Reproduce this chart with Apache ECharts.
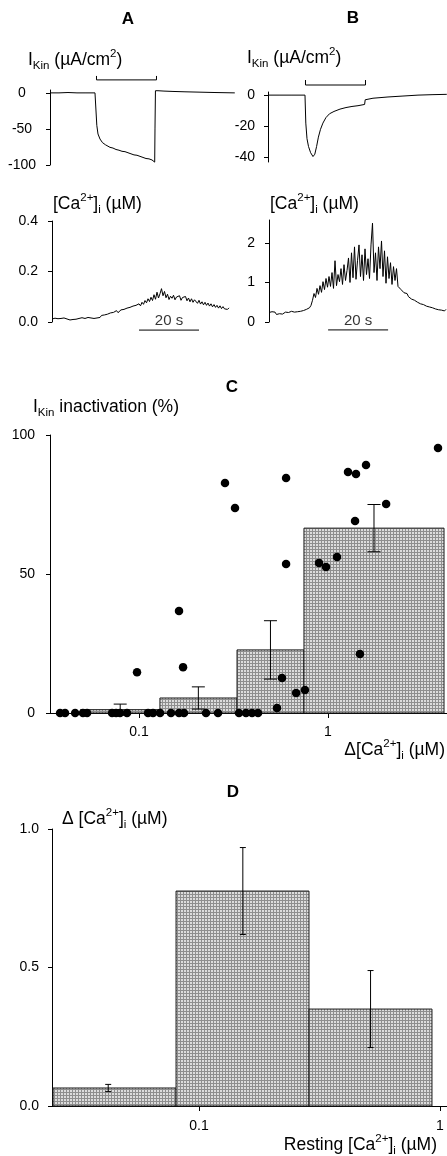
<!DOCTYPE html>
<html><head><meta charset="utf-8">
<script src="https://cdn.jsdelivr.net/npm/echarts@6/dist/echarts.min.js"></script>
<style>html,body{margin:0;padding:0;background:#fff}#c{width:447px;height:1156px}</style>
</head><body><div id="c"></div>
<script>
// ================= DATA =================
// Panel A: I_Kin current trace (time s, µA/cm2)
const aCurT = [0, 3, 6, 9, 12, 15, 15.33, 15.6, 16, 16.67, 17.5, 18.5, 20, 21, 22, 23, 24, 25, 26, 27, 28, 29, 30, 31, 32, 33, 34, 34.9, 35.0, 35.15, 36, 38, 41, 45, 50, 55, 61.6];
const aCurV = [0, 0, 0.5, 0, 0, 0, 0, -45, -57, -64, -69, -72, -75.5, -76.5, -78.5, -79.5, -81, -81.5, -83, -84.5, -86, -86.5, -88, -89.5, -91, -91.5, -93, -96, -50, 3, 3, 2.5, 2, 1.5, 1, 0.5, 0];
const aStim = [15.5, 35.5];
// Panel A: [Ca2+]i trace (µM), sampled every caStep seconds
const caStep = 0.5;
const aCa = [
 0.012,0.008,0.015,0.010,0.013,0.007,0.014,0.011,0.016,0.009,0.012,0.015,0.008,0.013,0.010,0.016,
 0.011,0.009,0.014,0.012,0.017,0.011,0.014,0.010,0.018,0.013,0.016,0.021,0.014,0.019,0.016,0.022,
 0.018,0.026,0.020,0.028,0.024,0.031,0.026,0.036,0.030,0.038,0.033,0.045,0.037,0.042,0.048,0.041,
 0.050,0.046,0.055,0.049,0.058,0.052,0.063,0.057,0.066,0.060,0.072,0.064,0.078,0.070,0.085,0.076,
 0.092,0.081,0.098,0.085,0.108,0.090,0.118,0.095,0.112,0.132,0.104,0.121,0.096,0.110,0.089,0.102,
 0.094,0.106,0.088,0.099,0.092,0.104,0.086,0.097,0.090,0.101,0.084,0.095,0.080,0.092,0.078,0.088,
 0.083,0.074,0.086,0.071,0.080,0.068,0.078,0.066,0.075,0.063,0.072,0.060,0.069,0.058,0.066,0.055,
 0.064,0.053,0.061,0.052,0.059,0.050,0.056];
const aScaleBar = [29, 49];

// Panel B: I_Kin current trace
const bCurT = [0, 4, 8, 12.33, 12.6, 13.0, 13.5, 14.2, 15.0, 15.6, 16.2, 16.8, 17.5, 18.3, 19.3, 20.5, 22, 24, 26, 28, 30, 32.2, 32.4, 33, 35, 40, 45, 50, 55, 59.6];
const bCurV = [0, 0, 0, 0, -18, -28, -33, -37, -39.5, -38, -33, -27, -22, -18, -14.5, -12, -10.5, -9, -8, -7.3, -6.8, -6, -3, -2.5, -2, -1.2, -0.6, 0, 0.3, 0.5];
const bStim = [12.5, 32.5];
// Panel B: [Ca2+]i trace (µM)
const bCa = [
 0.24,0.20,0.26,0.22,0.25,0.19,0.23,0.21,0.26,0.20,0.22,0.25,0.21,0.24,0.22,0.27,
 0.23,0.25,0.22,0.26,0.24,0.27,0.25,0.29,0.28,0.32,0.30,0.36,0.42,0.55,0.72,0.62,
 0.85,0.70,0.92,0.75,1.02,0.82,1.10,0.88,1.15,0.90,1.25,0.85,1.55,0.92,1.20,1.02,
 1.35,0.95,1.45,1.05,1.30,1.62,1.00,1.75,1.12,1.90,1.08,1.55,1.95,1.15,1.70,1.05,
 1.85,1.20,1.60,1.10,1.95,2.50,1.25,1.75,1.05,1.90,1.35,2.05,1.15,1.80,0.98,1.65,
 1.10,1.50,0.95,1.40,1.05,1.35,0.90,0.95,0.82,0.78,0.74,0.70,0.72,0.64,0.66,0.58,
 0.62,0.55,0.57,0.50,0.53,0.46,0.50,0.44,0.47,0.40,0.44,0.38,0.41,0.36,0.39,0.33,
 0.37,0.31,0.35,0.30,0.33,0.28,0.32];
const bScaleBar = [19.7, 39.7];

// Panel C: individual cells, Δ[Ca2+]i (µM) vs I_Kin inactivation (%)
const cDeltaCa = [0.0382,0.0406,0.0459,0.0505,0.0531,0.0720,0.0756,0.0793,0.0864,0.1116,0.1186,0.1292,0.1476,0.1628,0.1730,0.2262,0.2618,0.3381,0.3681,0.3963,0.4265,
  0.537,0.0976,0.1628,0.171,0.285,0.322,0.600,0.600,0.571,0.678,0.755,0.896,0.976,1.116,1.276,1.406,1.589,1.39,2.03,1.476,3.82];
const cInact = [0,0,0,0,0,0,0,0,0,0,0,0,0,0,0,0,0,0,0,0,0,
  1.8,14.7,36.7,16.5,82.7,73.7,84.5,53.6,12.6,7.2,8.3,54.0,52.5,56.1,86.7,86.0,89.2,69.1,75.2,21.2,95.3];
// Panel C: binned means
const cBinLo = [0.049, 0.129, 0.33, 0.746];
const cBinHi = [0.129, 0.33, 0.746, 4.11];
const cBinMean = [1.2, 5.4, 22.7, 66.5];
const cBinErr = [2.0, 4.0, 10.5, 8.5];
const cBinErrX = [0.0795, 0.206, 0.496, 1.751];

// Panel D: Δ[Ca2+]i vs resting [Ca2+]i bins
const dBinLo = [0.0248, 0.0803, 0.286];
const dBinHi = [0.0803, 0.286, 0.926];
const dBinMean = [0.065, 0.776, 0.350];
const dBinErr = [0.013, 0.157, 0.139];
const dBinErrX = [0.042, 0.152, 0.515];

// Tick values / labels
const aCurTicks = [-100, -50, 0], aCurLabels = ['-100', '-50', '0'];
const aCaTicks = [0, 0.2, 0.4], aCaLabels = ['0.0', '0.2', '0.4'];
const bCurTicks = [-40, -20, 0], bCurLabels = ['-40', '-20', '0'];
const bCaTicks = [0, 1, 2], bCaLabels = ['0', '1', '2'];
const cYTicks = [0, 50, 100], cYLabels = ['0', '50', '100'];
const cXTicks = [0.1, 1], cXLabels = ['0.1', '1'];
const dYTicks = [0, 0.5, 1], dYLabels = ['0.0', '0.5', '1.0'];
const dXTicks = [0.1, 1], dXLabels = ['0.1', '1'];

// ================= CHART =================
const F = '"Liberation Sans", Arial, Helvetica, sans-serif';
const chart = echarts.init(document.getElementById('c'), null, {renderer: 'canvas'});

function pattern() {
  const c = document.createElement('canvas'); c.width = 3; c.height = 3;
  const g = c.getContext('2d');
  g.fillStyle = '#dcdcdc'; g.fillRect(0, 0, 3, 3);
  g.fillStyle = '#8e8e8e'; g.fillRect(0, 0, 3, 1); g.fillRect(0, 0, 1, 3);
  return {image: c, repeat: 'repeat'};
}
const pat = pattern();

function lab(ticks, labels) {
  return v => { const i = ticks.findIndex(t => Math.abs(t - v) < 1e-9 * Math.max(1, Math.abs(t))); return i >= 0 ? labels[i] : ''; };
}
function yAx(gi, min, max, ticks, labels, margin, align) {
  return {
    gridIndex: gi, type: 'value', min, max,
    axisLine: {show: true, onZero: false, lineStyle: {color: '#000', width: 1}},
    axisTick: {show: true, length: 4, customValues: ticks, lineStyle: {color: '#000', width: 1}},
    axisLabel: {show: true, customValues: ticks, formatter: lab(ticks, labels), margin, align: align || 'right',
      color: '#000', fontSize: 14, fontFamily: F},
    splitLine: {show: false}
  };
}
function xHidden(gi, max) { return {gridIndex: gi, type: 'value', min: 0, max, show: false}; }
function xLog(gi, min, max, ticks, labels, margin) {
  return {
    gridIndex: gi, type: 'log', logBase: 10, min, max,
    axisLine: {show: true, onZero: false, lineStyle: {color: '#000', width: 1}},
    axisTick: {show: true, length: 5, customValues: ticks, lineStyle: {color: '#000', width: 1}},
    axisLabel: {show: true, customValues: ticks, formatter: lab(ticks, labels), margin, color: '#000', fontSize: 14, fontFamily: F},
    splitLine: {show: false}, minorTick: {show: false}, minorSplitLine: {show: false}
  };
}
const pairs = (xs, ys) => xs.map((x, i) => [x, ys[i]]);
const sampled = (ys) => ys.map((y, i) => [i * caStep, y]);
function trace(xi, data) {
  return {type: 'line', xAxisIndex: xi, yAxisIndex: xi, data, showSymbol: false, symbol: 'none',
    lineStyle: {color: '#000', width: 1}, silent: true, clip: false, z: 3};
}
function stimBar(xi, stim, level, tick) {
  return trace(xi, [[stim[0], tick], [stim[0], level], [stim[1], level], [stim[1], tick]]);
}
function scaleBar(xi, bar, level) {
  return trace(xi, [[bar[0], level], [bar[1], level]]);
}
function scaleLabel(xi, bar, level) {
  return {type: 'scatter', xAxisIndex: xi, yAxisIndex: xi, clip: false, symbolSize: 1,
    itemStyle: {color: 'rgba(0,0,0,0)'}, silent: true,
    data: [[(bar[0] + bar[1]) / 2, level]],
    label: {show: true, position: 'top', distance: 1, formatter: '20 s', color: '#000', fontSize: 15, fontFamily: F}};
}
function bars(xi, lo, hi, mean) {
  return {type: 'custom', xAxisIndex: xi, yAxisIndex: xi, silent: true, z: 2,
    data: lo.map((l, i) => [l, hi[i], mean[i]]),
    encode: {x: [0, 1], y: 2},
    renderItem: (p, api) => {
      const a = api.coord([api.value(0), api.value(2)]);
      const b = api.coord([api.value(1), 0]);
      return {type: 'rect', shape: {x: a[0], y: a[1], width: b[0] - a[0], height: b[1] - a[1]},
        style: {fill: pat, stroke: '#1a1a1a', lineWidth: 1}};
    }};
}
function errs(xi, xs, mean, err, cap) {
  return {type: 'custom', xAxisIndex: xi, yAxisIndex: xi, silent: true, z: 4,
    data: xs.map((x, i) => [x, mean[i], err[i]]),
    encode: {x: 0, y: 1},
    renderItem: (p, api) => {
      const x = api.value(0), m = api.value(1), e = api.value(2);
      const t = api.coord([x, m + e]), b = api.coord([x, m - e]);
      const st = {stroke: '#000', lineWidth: 1};
      return {type: 'group', children: [
        {type: 'line', shape: {x1: t[0], y1: t[1], x2: b[0], y2: b[1]}, style: st},
        {type: 'line', shape: {x1: t[0] - cap, y1: t[1], x2: t[0] + cap, y2: t[1]}, style: st},
        {type: 'line', shape: {x1: b[0] - cap, y1: b[1], x2: b[0] + cap, y2: b[1]}, style: st}
      ]};
    }};
}

const rich = {
  m: {fontSize: 17.5, fontFamily: F, lineHeight: 24, fill: '#000'},
  sup: {fontSize: 11.5, fontFamily: F, lineHeight: 13, verticalAlign: 'top', fill: '#000'},
  sub: {fontSize: 11.5, fontFamily: F, lineHeight: 13, verticalAlign: 'bottom', fill: '#000'}
};
function txt(x, y, text, align) {
  return {type: 'text', x, y, z: 10, silent: true,
    style: {text, rich, fill: '#000', font: '17.5px ' + F, align: align || 'left', textAlign: align || 'left',
      verticalAlign: 'middle', textVerticalAlign: 'middle'}};
}
function ttl(x, y, text) {
  return {type: 'text', x, y, z: 10, silent: true,
    style: {text, fill: '#000', font: 'bold 17px ' + F, align: 'center', textAlign: 'center',
      verticalAlign: 'middle', textVerticalAlign: 'middle'}};
}
const IKIN = '{m|I}{sub|Kin}{m| (µA/cm}{sup|2}{m|)}';
const CA = '{m|[Ca}{sup|2+}{m|]}{sub|i}{m| (µM)}';

const option = {
  animation: false,
  backgroundColor: '#fff',
  grid: [
    {left: 50, top: 90, width: 185, height: 75, outerBoundsMode: 'none'},
    {left: 52, top: 221, width: 178, height: 101, outerBoundsMode: 'none'},
    {left: 268, top: 92, width: 179, height: 70, outerBoundsMode: 'none'},
    {left: 269, top: 220, width: 178, height: 102, outerBoundsMode: 'none'},
    {left: 50, top: 435, width: 397, height: 278, outerBoundsMode: 'none'},
    {left: 52, top: 829, width: 395, height: 277, outerBoundsMode: 'none'}
  ],
  xAxis: [
    xHidden(0, 61.67), xHidden(1, 59.33), xHidden(2, 59.67), xHidden(3, 59.33),
    xLog(4, 0.0338, 4.262, cXTicks, cXLabels, 12),
    xLog(5, 0.02455, 1.069, dXTicks, dXLabels, 13)
  ],
  yAxis: [
    yAx(0, -100, 4, aCurTicks, aCurLabels, 28, 'center'),
    yAx(1, 0, 0.4, aCaTicks, aCaLabels, 14),
    yAx(2, -43, 2, bCurTicks, bCurLabels, 13),
    yAx(3, 0, 2.58, bCaTicks, bCaLabels, 14),
    yAx(4, 0, 100, cYTicks, cYLabels, 15),
    yAx(5, 0, 1, dYTicks, dYLabels, 13)
  ],
  series: [
    trace(0, pairs(aCurT, aCurV)),
    stimBar(0, aStim, 18, 23.5),
    trace(1, sampled(aCa)),
    scaleBar(1, aScaleBar, -0.032),
    scaleLabel(1, aScaleBar, -0.032),
    trace(2, pairs(bCurT, bCurV)),
    stimBar(2, bStim, 6.5, 9.7),
    trace(3, sampled(bCa)),
    scaleBar(3, bScaleBar, -0.2),
    scaleLabel(3, bScaleBar, -0.2),
    bars(4, cBinLo, cBinHi, cBinMean),
    errs(4, cBinErrX, cBinMean, cBinErr, 6.5),
    {type: 'scatter', xAxisIndex: 4, yAxisIndex: 4, data: pairs(cDeltaCa, cInact), symbol: 'circle', symbolSize: 8.5,
      itemStyle: {color: '#000', opacity: 1}, silent: true, z: 5, clip: false},
    bars(5, dBinLo, dBinHi, dBinMean),
    errs(5, dBinErrX, dBinMean, dBinErr, 3)
  ],
  graphic: [
    ttl(128, 19, 'A'), ttl(353, 18.5, 'B'), ttl(232, 387, 'C'), ttl(233, 792, 'D'),
    txt(28, 60, IKIN), txt(247, 58, IKIN),
    txt(53, 204, CA), txt(270, 204, CA),
    txt(33, 407, '{m|I}{sub|Kin}{m| inactivation (%)}'),
    txt(445, 750, '{m|Δ[Ca}{sup|2+}{m|]}{sub|i}{m| (µM)}', 'right'),
    txt(62, 819, '{m|Δ [Ca}{sup|2+}{m|]}{sub|i}{m| (µM)}'),
    txt(437, 1145, '{m|Resting [Ca}{sup|2+}{m|]}{sub|i}{m| (µM)}', 'right')
  ]
};
chart.setOption(option);
</script></body></html>
